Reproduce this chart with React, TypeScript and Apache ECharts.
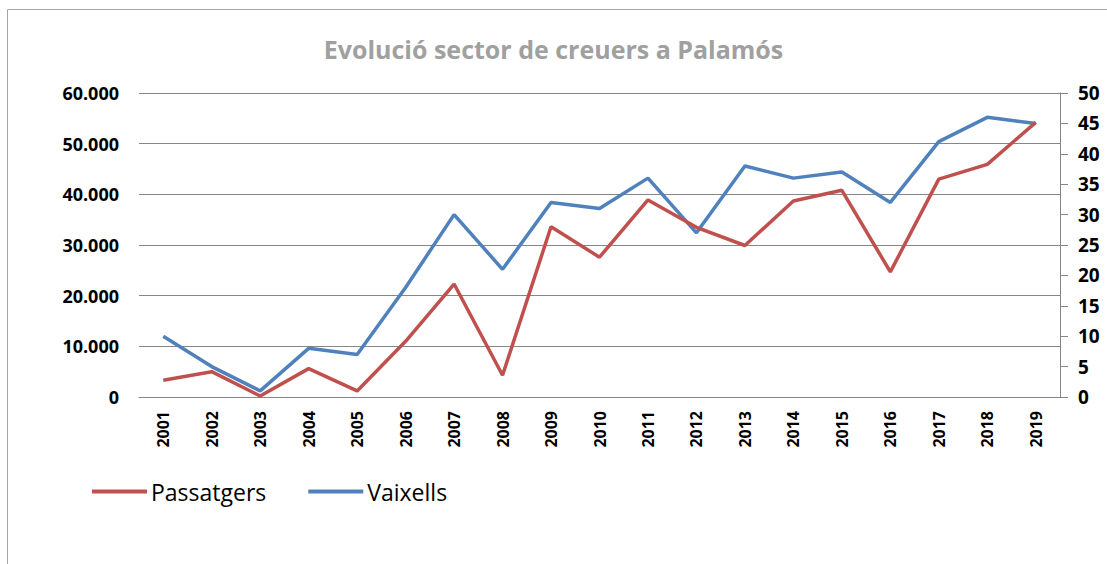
import React, { useEffect, useRef } from "react";
import * as echarts from "echarts";

const years = ["2001","2002","2003","2004","2005","2006","2007","2008","2009","2010","2011","2012","2013","2014","2015","2016","2017","2018","2019"];
const passatgers = [3300, 5000, 200, 5600, 1200, 11000, 22300, 4300, 33600, 27600, 38900, 33500, 29900, 38700, 40800, 24700, 43000, 45900, 54200];
const vaixells = [10, 5, 1, 8, 7, 18, 30, 21, 32, 31, 36, 27, 38, 36, 37, 32, 42, 46, 45];
const title = "Evolució sector de creuers a Palamós";
const seriesNames = ["Passatgers", "Vaixells"];

const fmtThousands = (v: number) => {
  const s = Math.round(v).toString();
  return s.replace(/\B(?=(\d{3})+(?!\d))/g, ".");
};

export default function App() {
  const ref = useRef<HTMLDivElement>(null);
  useEffect(() => {
    document.body.style.margin = "0";
    const chart = echarts.init(ref.current!, undefined, { renderer: "svg" });
    const font = "'Open Sans', sans-serif";
    chart.setOption({
      animation: false,
      backgroundColor: "#ffffff",
      title: {
        text: title,
        left: "center",
        top: 31,
        textStyle: { fontFamily: font, fontWeight: "bold", fontSize: 25, color: "#a0a0a0" },
      },
      graphic: [
        { type: "line", shape: { x1: 7.5, y1: 9.5, x2: 1107, y2: 9.5 }, style: { stroke: "#a6a6a6", lineWidth: 1 } },
        { type: "line", shape: { x1: 7.5, y1: 9.5, x2: 7.5, y2: 564 }, style: { stroke: "#a6a6a6", lineWidth: 1 } },
      ],
      legend: {
        left: 87,
        top: 475,
        itemWidth: 55,
        itemHeight: 4,
        itemGap: 42,
        icon: "rect",
        textStyle: { fontFamily: font, fontSize: 23, color: "#000", padding: [0, 0, 0, -1] },
        data: seriesNames,
      },
      grid: { left: 139, right: 47, top: 93, bottom: 167, containLabel: false },
      xAxis: {
        type: "category",
        data: years,
        boundaryGap: true,
        axisLine: { show: true, lineStyle: { color: "#868686", width: 1 } },
        axisTick: { show: false },
        axisLabel: {
          rotate: 90,
          margin: 14,
          interval: 0,
          fontFamily: font,
          fontWeight: "bold",
          fontSize: 16,
          color: "#000",
        },
      },
      yAxis: [
        {
          type: "value",
          min: 0,
          max: 60000,
          interval: 10000,
          axisLine: { show: false },
          axisTick: { show: false },
          splitLine: { show: true, lineStyle: { color: "#868686", width: 1 } },
          axisLabel: {
            margin: 20,
            fontFamily: font,
            fontWeight: "bold",
            fontSize: 18,
            color: "#000",
            formatter: (v: number) => fmtThousands(v),
          },
        },
        {
          type: "value",
          position: "right",
          min: 0,
          max: 50,
          interval: 5,
          axisLine: { show: true, lineStyle: { color: "#868686", width: 1 } },
          axisTick: { show: true, length: 8, inside: false, lineStyle: { color: "#868686" } },
          splitLine: { show: false },
          axisLabel: {
            margin: 18,
            fontFamily: font,
            fontWeight: "bold",
            fontSize: 19,
            color: "#000",
          },
        },
      ],
      series: [
        {
          name: seriesNames[0],
          type: "line",
          yAxisIndex: 0,
          data: passatgers,
          symbol: "none",
          lineStyle: { color: "#C0504D", width: 3.5 },
          itemStyle: { color: "#C0504D" },
          z: 3,
        },
        {
          name: seriesNames[1],
          type: "line",
          yAxisIndex: 1,
          data: vaixells,
          symbol: "none",
          lineStyle: { color: "#4F81BD", width: 3.5 },
          itemStyle: { color: "#4F81BD" },
          z: 2,
        },
      ],
    });
    return () => chart.dispose();
  }, []);
  return <div ref={ref} style={{ width: 1107, height: 564 }} />;
}
